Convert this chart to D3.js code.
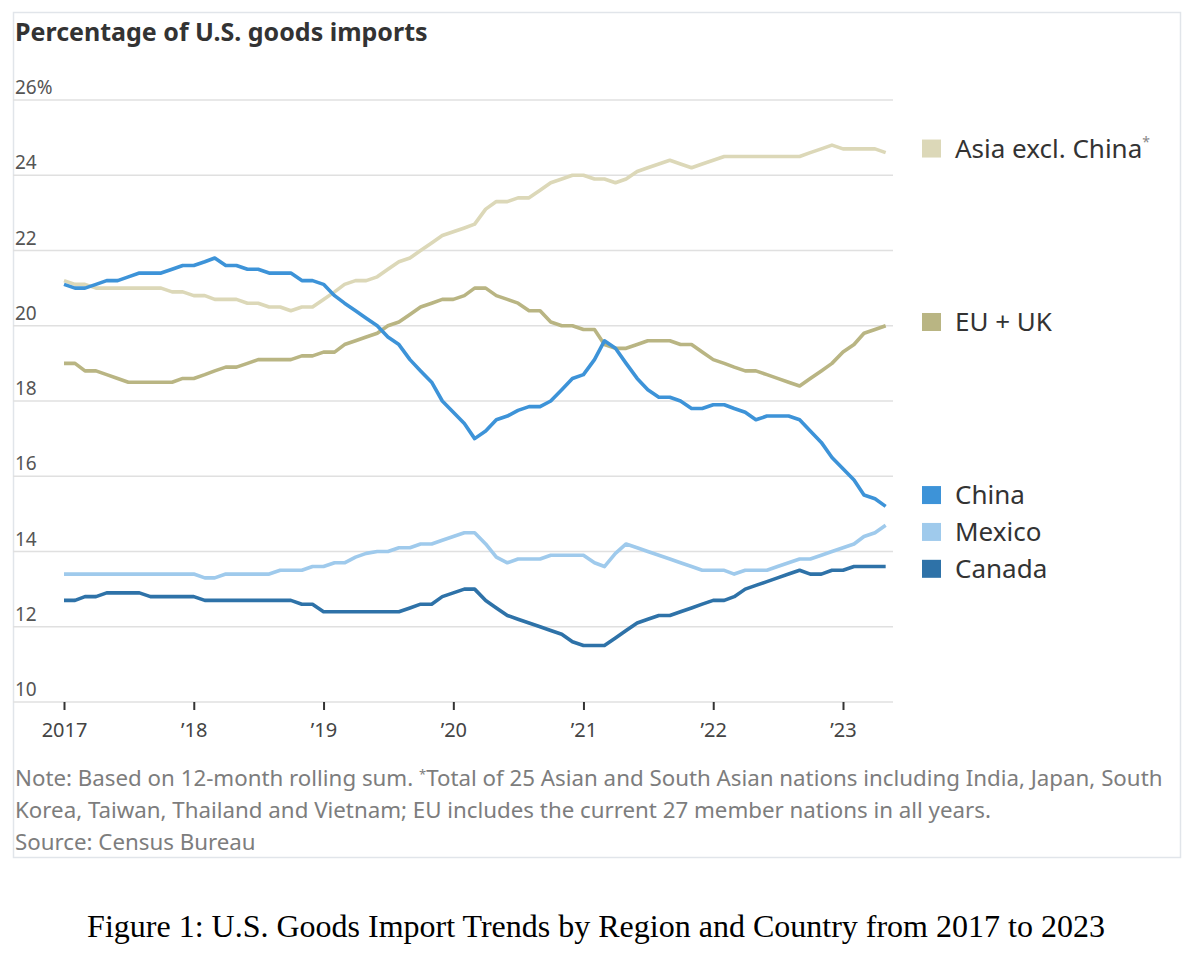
<!DOCTYPE html>
<html>
<head>
<meta charset="utf-8">
<script src="https://cdn.jsdelivr.net/npm/d3@7"></script>
<style>
  body { margin: 0; background: #fff; }
  text { font-family: "Noto Sans", sans-serif; }
</style>
</head>
<body>
<svg id="chart" width="1192" height="960"></svg>
<script>
// monthly shares of US goods imports, Jan 2017 -> May 2023 (12-month rolling)
const firstMonth = [2017, 0];
const yearTicks = [2017, 2018, 2019, 2020, 2021, 2022, 2023];
const yTicks = [10, 12, 14, 16, 18, 20, 22, 24, 26];

const asiaExChina = [
  21.2, 21.1, 21.1, 21.0, 21.0, 21.0, 21.0, 21.0, 21.0, 21.0, 20.9, 20.9,
  20.8, 20.8, 20.7, 20.7, 20.7, 20.6, 20.6, 20.5, 20.5, 20.4, 20.5, 20.5,
  20.7, 20.9, 21.1, 21.2, 21.2, 21.3, 21.5, 21.7, 21.8, 22.0, 22.2, 22.4,
  22.5, 22.6, 22.7, 23.1, 23.3, 23.3, 23.4, 23.4, 23.6, 23.8, 23.9, 24.0,
  24.0, 23.9, 23.9, 23.8, 23.9, 24.1, 24.2, 24.3, 24.4, 24.3, 24.2, 24.3,
  24.4, 24.5, 24.5, 24.5, 24.5, 24.5, 24.5, 24.5, 24.5, 24.6, 24.7, 24.8,
  24.7, 24.7, 24.7, 24.7, 24.6
];
const euUk = [
  19.0, 19.0, 18.8, 18.8, 18.7, 18.6, 18.5, 18.5, 18.5, 18.5, 18.5, 18.6,
  18.6, 18.7, 18.8, 18.9, 18.9, 19.0, 19.1, 19.1, 19.1, 19.1, 19.2, 19.2,
  19.3, 19.3, 19.5, 19.6, 19.7, 19.8, 20.0, 20.1, 20.3, 20.5, 20.6, 20.7,
  20.7, 20.8, 21.0, 21.0, 20.8, 20.7, 20.6, 20.4, 20.4, 20.1, 20.0, 20.0,
  19.9, 19.9, 19.5, 19.4, 19.4, 19.5, 19.6, 19.6, 19.6, 19.5, 19.5, 19.3,
  19.1, 19.0, 18.9, 18.8, 18.8, 18.7, 18.6, 18.5, 18.4, 18.6, 18.8, 19.0,
  19.3, 19.5, 19.8, 19.9, 20.0
];
const china = [
  21.1, 21.0, 21.0, 21.1, 21.2, 21.2, 21.3, 21.4, 21.4, 21.4, 21.5, 21.6,
  21.6, 21.7, 21.8, 21.6, 21.6, 21.5, 21.5, 21.4, 21.4, 21.4, 21.2, 21.2,
  21.1, 20.8, 20.6, 20.4, 20.2, 20.0, 19.7, 19.5, 19.1, 18.8, 18.5, 18.0,
  17.7, 17.4, 17.0, 17.2, 17.5, 17.6, 17.75, 17.85, 17.85, 18.0, 18.3, 18.6,
  18.7, 19.1, 19.6, 19.4, 19.0, 18.6, 18.3, 18.1, 18.1, 18.0, 17.8, 17.8,
  17.9, 17.9, 17.8, 17.7, 17.5, 17.6, 17.6, 17.6, 17.5, 17.2, 16.9, 16.5,
  16.2, 15.9, 15.5, 15.4, 15.2
];
const mexico = [
  13.4, 13.4, 13.4, 13.4, 13.4, 13.4, 13.4, 13.4, 13.4, 13.4, 13.4, 13.4,
  13.4, 13.3, 13.3, 13.4, 13.4, 13.4, 13.4, 13.4, 13.5, 13.5, 13.5, 13.6,
  13.6, 13.7, 13.7, 13.85, 13.95, 14.0, 14.0, 14.1, 14.1, 14.2, 14.2, 14.3,
  14.4, 14.5, 14.5, 14.2, 13.85, 13.7, 13.8, 13.8, 13.8, 13.9, 13.9, 13.9,
  13.9, 13.7, 13.6, 13.95, 14.2, 14.1, 14.0, 13.9, 13.8, 13.7, 13.6, 13.5,
  13.5, 13.5, 13.4, 13.5, 13.5, 13.5, 13.6, 13.7, 13.8, 13.8, 13.9, 14.0,
  14.1, 14.2, 14.4, 14.5, 14.7
];
const canada = [
  12.7, 12.7, 12.8, 12.8, 12.9, 12.9, 12.9, 12.9, 12.8, 12.8, 12.8, 12.8,
  12.8, 12.7, 12.7, 12.7, 12.7, 12.7, 12.7, 12.7, 12.7, 12.7, 12.6, 12.6,
  12.4, 12.4, 12.4, 12.4, 12.4, 12.4, 12.4, 12.4, 12.5, 12.6, 12.6, 12.8,
  12.9, 13.0, 13.0, 12.7, 12.5, 12.3, 12.2, 12.1, 12.0, 11.9, 11.8, 11.6,
  11.5, 11.5, 11.5, 11.7, 11.9, 12.1, 12.2, 12.3, 12.3, 12.4, 12.5, 12.6,
  12.7, 12.7, 12.8, 13.0, 13.1, 13.2, 13.3, 13.4, 13.5, 13.4, 13.4, 13.5,
  13.5, 13.6, 13.6, 13.6, 13.6
];

const seriesNames = ["Asia excl. China", "EU + UK", "China", "Mexico", "Canada"];
const seriesValues = [asiaExChina, euUk, china, mexico, canada];
// where each legend entry sits, in % on the y axis
const legendLevels = [24.71, 20.1, 15.5, 14.52, 13.54];

const colors = {
  "Asia excl. China": "#dcd8b8",
  "EU + UK": "#b9b583",
  "China": "#3d93d8",
  "Mexico": "#9fcaec",
  "Canada": "#2e72a8"
};

const svg = d3.select("#chart");

// outer frame
svg.append("rect")
  .attr("x", 13.5).attr("y", 12.5)
  .attr("width", 1167).attr("height", 845)
  .attr("fill", "none")
  .attr("stroke", "#e1e5ea")
  .attr("stroke-width", 1.5);

svg.append("text")
  .attr("x", 15).attr("y", 41)
  .attr("font-size", 25).attr("font-weight", 700)
  .attr("fill", "#333")
  .text("Percentage of U.S. goods imports");

const x = d3.scaleTime()
  .domain([new Date(2017, 0, 1), new Date(2023, 0, 1)])
  .range([64, 843]);
const y = d3.scaleLinear().domain([10, 26]).range([702, 100]);

// gridlines + y labels
const grid = svg.append("g");
grid.selectAll("line").data(yTicks).join("line")
  .attr("x1", 13).attr("x2", 893)
  .attr("y1", d => y(d)).attr("y2", d => y(d))
  .attr("stroke", "#e0e0e0").attr("stroke-width", 1.5);
grid.selectAll("text").data(yTicks).join("text")
  .attr("x", 15).attr("y", d => y(d) - 6)
  .attr("font-size", 19).attr("fill", "#555")
  .text(d => d === 26 ? d + "%" : d);

// x axis ticks
const xAxis = svg.append("g").attr("transform", "translate(0," + y(10) + ")")
  .call(d3.axisBottom(x)
    .tickValues(yearTicks.map(yr => new Date(yr, 0, 1)))
    .tickSize(8).tickPadding(13)
    .tickFormat(d => d.getFullYear() === 2017 ? "2017" : "\u2019" + String(d.getFullYear()).slice(2)));
xAxis.select(".domain").remove();
xAxis.selectAll(".tick line").attr("stroke", "#333").attr("stroke-width", 2);
xAxis.selectAll(".tick text")
  .attr("font-size", 20).attr("fill", "#444")
  .style("font-family", "'Noto Sans', sans-serif");

// lines
const line = d3.line()
  .x((d, i) => x(new Date(firstMonth[0], firstMonth[1] + i, 1)))
  .y(d => y(d));

const drawOrder = [0, 1, 3, 4, 2];
svg.append("g").selectAll("path")
  .data(drawOrder)
  .join("path")
  .attr("d", k => line(seriesValues[k]))
  .attr("fill", "none")
  .attr("stroke", k => colors[seriesNames[k]])
  .attr("stroke-width", 3.6)
  .attr("stroke-linejoin", "round");

// legend
const legend = svg.append("g").selectAll("g")
  .data(seriesNames)
  .join("g")
  .attr("transform", (d, i) => "translate(922," + y(legendLevels[i]) + ")");
legend.append("rect")
  .attr("x", 0).attr("y", -9)
  .attr("width", 19).attr("height", 18)
  .attr("fill", d => colors[d]);
const lt = legend.append("text")
  .attr("x", 33).attr("y", 9)
  .attr("font-size", 26).attr("fill", "#333");
lt.append("tspan").text(d => d);
lt.filter(d => d === "Asia excl. China").append("tspan")
  .attr("font-size", 14).attr("dy", -11).attr("fill", "#888").text("*");

// note + source
const notes = svg.append("g").attr("font-size", 22.3).attr("fill", "#7d7d7d");
const n1 = notes.append("text").attr("x", 15).attr("y", 786);
n1.append("tspan").text("Note: Based on 12-month rolling sum. ");
n1.append("tspan").attr("font-size", 13).attr("dy", -7).text("*");
n1.append("tspan").attr("dy", 7).text("Total of 25 Asian and South Asian nations including India, Japan, South");
notes.append("text").attr("x", 15).attr("y", 818)
  .text("Korea, Taiwan, Thailand and Vietnam; EU includes the current 27 member nations in all years.");
notes.append("text").attr("x", 15).attr("y", 850).text("Source: Census Bureau");

svg.append("text")
  .attr("x", 596).attr("y", 937)
  .attr("text-anchor", "middle")
  .attr("font-size", 32).attr("fill", "#000")
  .style("font-family", "'Liberation Serif', 'Times New Roman', serif")
  .text("Figure 1: U.S. Goods Import Trends by Region and Country from 2017 to 2023");
</script>
</body>
</html>
